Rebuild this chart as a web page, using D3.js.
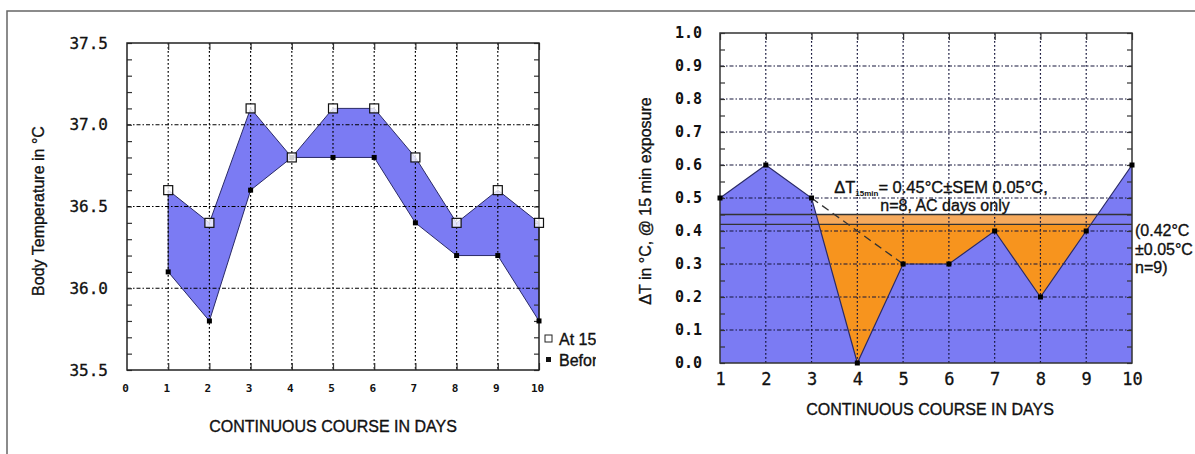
<!DOCTYPE html>
<html>
<head>
<meta charset="utf-8">
<script src="https://cdn.jsdelivr.net/npm/d3@7/dist/d3.min.js"></script>
<style>
  body { margin: 0; background: #fff; }
  svg { display: block; }
  .mono { font-family: "DejaVu Sans Mono", monospace; }
  .sans { font-family: "Liberation Sans", Arial, sans-serif; stroke: #111; stroke-width: 0.35px; }
</style>
</head>
<body>
<svg id="fig" width="1195" height="454"></svg>
<script>
// ---- data ----
const days = [1, 2, 3, 4, 5, 6, 7, 8, 9, 10];
const at15min = [36.6, 36.4, 37.1, 36.8, 37.1, 37.1, 36.8, 36.4, 36.6, 36.4];
const beforeExp = [36.1, 35.8, 36.6, 36.8, 36.8, 36.8, 36.4, 36.2, 36.2, 35.8];
const deltaT = [0.5, 0.6, 0.5, 0.0, 0.3, 0.3, 0.4, 0.2, 0.4, 0.6];
const meanAC = 0.45;
const meanAll = 0.42;
const dashFrom = 3, dashTo = 5;

const leftXTicks = [0, 1, 2, 3, 4, 5, 6, 7, 8, 9, 10];
const leftYTicks = [35.5, 36.0, 36.5, 37.0, 37.5];
const rightXTicks = [1, 2, 3, 4, 5, 6, 7, 8, 9, 10];
const rightYTicks = [0, 0.1, 0.2, 0.3, 0.4, 0.5, 0.6, 0.7, 0.8, 0.9, 1.0];

const BLUE = "#7b7bf3", EDGE = "#2a2a66";
const svg = d3.select("#fig");

// outer figure frame (top + left edge)
svg.append("path")
  .attr("d", "M7,454 L7,11 L1195,11")
  .attr("fill", "none").attr("stroke", "#666").attr("stroke-width", 1.5);

function minorTicks(g, axis, vals, size) {
  g.call(axis.tickValues(vals).tickSize(size).tickFormat(""))
    .call(a => a.select(".domain").remove())
    .selectAll("line").attr("stroke", "#333").attr("stroke-width", 1.2);
}

// ================= LEFT CHART =================
(function leftChart() {
  const x = d3.scaleLinear().domain([0, 10]).range([127, 539]);
  const y = d3.scaleLinear().domain([35.5, 37.5]).range([370, 43]);
  const g = svg.append("g");

  const band = d3.area()
    .x((d, i) => x(days[i]))
    .y0((d, i) => y(beforeExp[i]))
    .y1(d => y(d));
  g.append("path").datum(at15min)
    .attr("d", band)
    .attr("fill", BLUE).attr("stroke", EDGE).attr("stroke-width", 1);

  // grid
  g.selectAll(".vg").data(days.slice(0, 9)).join("line")
    .attr("x1", d => x(d)).attr("x2", d => x(d))
    .attr("y1", y(37.5)).attr("y2", y(35.5))
    .attr("stroke", "#000").attr("stroke-width", 1.2).attr("stroke-dasharray", "1.8,2.2");
  g.selectAll(".hg").data(leftYTicks.slice(1, 4)).join("line")
    .attr("x1", x(0)).attr("x2", x(10))
    .attr("y1", d => y(d)).attr("y2", d => y(d))
    .attr("stroke", "#000").attr("stroke-width", 1.2).attr("stroke-dasharray", "4,2,1.5,2");

  const minor = d3.range(0, 21).map(i => 35.5 + i * 0.1);
  minorTicks(g.append("g").attr("transform", `translate(${x(0)},0)`), d3.axisLeft(y), minor, -5);
  minorTicks(g.append("g").attr("transform", `translate(${x(10)},0)`), d3.axisRight(y), minor, -5);
  minorTicks(g.append("g").attr("transform", `translate(0,${y(37.5)})`), d3.axisTop(x), days, -7);
  minorTicks(g.append("g").attr("transform", `translate(0,${y(35.5)})`), d3.axisBottom(x), days, -7);

  g.append("rect")
    .attr("x", x(0)).attr("y", y(37.5))
    .attr("width", x(10) - x(0)).attr("height", y(35.5) - y(37.5))
    .attr("fill", "none").attr("stroke", "#222").attr("stroke-width", 1.5);

  // markers
  g.selectAll(".bm").data(beforeExp).join("rect")
    .attr("x", (d, i) => x(days[i]) - 2.5).attr("y", d => y(d) - 2.5)
    .attr("width", 5).attr("height", 5).attr("fill", "#000");
  g.selectAll(".am").data(at15min).join("rect")
    .attr("x", (d, i) => x(days[i]) - 4.5).attr("y", d => y(d) - 4.5)
    .attr("width", 9).attr("height", 9)
    .attr("fill", "#fff").attr("fill-opacity", 0.8).attr("stroke", "#111").attr("stroke-width", 1.2);

  // tick labels
  g.append("g").attr("transform", `translate(${x(0)},0)`)
    .call(d3.axisLeft(y).tickValues(leftYTicks).tickSize(0).tickPadding(19).tickFormat(d3.format(".1f")))
    .call(a => a.select(".domain").remove())
    .selectAll("text").attr("class", "mono").attr("font-size", 16).attr("fill", "#111")
    .attr("stroke", "#111").attr("stroke-width", 0.3);
  g.append("g").attr("transform", `translate(0,${y(35.5)})`)
    .call(d3.axisBottom(x).tickValues(leftXTicks).tickSize(0).tickPadding(14))
    .call(a => a.select(".domain").remove())
    .selectAll("text").attr("class", "mono").attr("font-size", 11).attr("font-weight", "bold")
    .attr("dx", -2).attr("fill", "#111");

  // titles
  g.append("text").attr("class", "sans")
    .attr("transform", "translate(44,211) rotate(-90)")
    .attr("text-anchor", "middle").attr("font-size", 16).attr("fill", "#111")
    .text("Body Temperature in °C");
  g.append("text").attr("class", "sans")
    .attr("x", 333).attr("y", 432)
    .attr("text-anchor", "middle").attr("font-size", 16).attr("fill", "#111")
    .text("CONTINUOUS COURSE IN DAYS");

  // legend (clipped as in the source image)
  svg.append("clipPath").attr("id", "legclip")
    .append("rect").attr("x", 540).attr("y", 320).attr("width", 56).attr("height", 60);
  const leg = g.append("g").attr("clip-path", "url(#legclip)");
  leg.append("rect").attr("x", 545).attr("y", 335).attr("width", 7).attr("height", 7)
    .attr("fill", "#fff").attr("stroke", "#222").attr("stroke-width", 1);
  leg.append("text").attr("class", "sans").attr("x", 559).attr("y", 345)
    .attr("font-size", 16).attr("fill", "#111").text("At 15 min");
  leg.append("rect").attr("x", 546).attr("y", 357).attr("width", 5).attr("height", 5).attr("fill", "#111");
  leg.append("text").attr("class", "sans").attr("x", 559).attr("y", 366)
    .attr("font-size", 16).attr("fill", "#111").text("Before");
})();

// ================= RIGHT CHART =================
(function rightChart() {
  const x = d3.scaleLinear().domain([1, 10]).range([720, 1132]);
  const y = d3.scaleLinear().domain([0, 1]).range([363, 33]);
  const g = svg.append("g");

  // orange bands below the two mean lines, then blue area under the curve
  g.append("rect").attr("x", x(1)).attr("width", x(10) - x(1))
    .attr("y", y(meanAC)).attr("height", y(0) - y(meanAC)).attr("fill", "#f6aa5c");
  g.append("rect").attr("x", x(1)).attr("width", x(10) - x(1))
    .attr("y", y(meanAll)).attr("height", y(0) - y(meanAll)).attr("fill", "#f7941e");

  const area = d3.area().x((d, i) => x(days[i])).y0(y(0)).y1(d => y(d));
  g.append("path").datum(deltaT).attr("d", area).attr("fill", BLUE);

  // grid
  g.selectAll(".vg").data(rightXTicks.slice(1, 9)).join("line")
    .attr("x1", d => x(d)).attr("x2", d => x(d))
    .attr("y1", y(1)).attr("y2", y(0))
    .attr("stroke", "#14143a").attr("stroke-width", 1.2).attr("stroke-dasharray", "1.8,2.2");
  g.selectAll(".hg").data(rightYTicks.slice(1, 10)).join("line")
    .attr("x1", x(1)).attr("x2", x(10))
    .attr("y1", d => y(d)).attr("y2", d => y(d))
    .attr("stroke", "#14143a").attr("stroke-width", 1.2).attr("stroke-dasharray", "4,2,1.5,2");

  // mean lines
  g.selectAll(".mean").data([meanAC, meanAll]).join("line")
    .attr("x1", x(1)).attr("x2", x(10))
    .attr("y1", d => y(d)).attr("y2", d => y(d))
    .attr("stroke", "#333").attr("stroke-width", 1.3);

  // curve
  const line = d3.line().x((d, i) => x(days[i])).y(d => y(d));
  g.append("path").datum(deltaT).attr("d", line)
    .attr("fill", "none").attr("stroke", EDGE).attr("stroke-width", 1.2);

  // dashed connector
  const i0 = days.indexOf(dashFrom), i1 = days.indexOf(dashTo);
  g.append("line")
    .attr("x1", x(dashFrom)).attr("y1", y(deltaT[i0]))
    .attr("x2", x(dashTo)).attr("y2", y(deltaT[i1]))
    .attr("stroke", "#333").attr("stroke-width", 1.3).attr("stroke-dasharray", "8,5");

  const minor = d3.range(0, 21).map(i => i * 0.05);
  minorTicks(g.append("g").attr("transform", `translate(${x(1)},0)`), d3.axisLeft(y), minor, -5);
  minorTicks(g.append("g").attr("transform", `translate(${x(10)},0)`), d3.axisRight(y), minor, -5);
  minorTicks(g.append("g").attr("transform", `translate(0,${y(1)})`), d3.axisTop(x), rightXTicks, -7);

  g.append("rect")
    .attr("x", x(1)).attr("y", y(1))
    .attr("width", x(10) - x(1)).attr("height", y(0) - y(1))
    .attr("fill", "none").attr("stroke", "#333").attr("stroke-width", 1.5);

  // markers
  g.selectAll(".pm").data(deltaT).join("rect")
    .attr("x", (d, i) => x(days[i]) - 2.5).attr("y", d => y(d) - 2.5)
    .attr("width", 5).attr("height", 5).attr("fill", "#000");

  // tick labels
  g.append("g").attr("transform", `translate(${x(1)},0)`)
    .call(d3.axisLeft(y).tickValues(rightYTicks).tickSize(0).tickPadding(18).tickFormat(d3.format(".1f")))
    .call(a => a.select(".domain").remove())
    .selectAll("text").attr("class", "mono").attr("font-size", 15).attr("font-weight", "bold").attr("fill", "#111");
  g.append("g").attr("transform", `translate(0,${y(0)})`)
    .call(d3.axisBottom(x).tickValues(rightXTicks).tickSize(0).tickPadding(10))
    .call(a => a.select(".domain").remove())
    .selectAll("text").attr("class", "mono").attr("font-size", 17).attr("fill", "#111")
    .attr("stroke", "#111").attr("stroke-width", 0.3);

  // titles
  g.append("text").attr("class", "sans")
    .attr("transform", "translate(651,201) rotate(-90)")
    .attr("text-anchor", "middle").attr("font-size", 16).attr("fill", "#111")
    .text("ΔT in °C, @ 15 min exposure");
  g.append("text").attr("class", "sans")
    .attr("x", 930).attr("y", 415)
    .attr("text-anchor", "middle").attr("font-size", 16).attr("fill", "#111")
    .text("CONTINUOUS COURSE IN DAYS");

  // annotation
  const ann = g.append("text").attr("class", "sans")
    .attr("x", 941).attr("y", 193).attr("text-anchor", "middle")
    .attr("font-size", 16.5).attr("fill", "#111");
  ann.append("tspan").text("ΔT");
  ann.append("tspan").attr("font-size", 8).attr("font-weight", "bold")
    .attr("stroke-width", 0).attr("dy", 3).text("15min");
  ann.append("tspan").attr("dy", -3).text(`= ${meanAC.toFixed(2)}°C±SEM 0.05°C,`);
  g.append("text").attr("class", "sans")
    .attr("x", 945).attr("y", 211).attr("text-anchor", "middle")
    .attr("font-size", 16).attr("fill", "#111")
    .text("n=8, AC days only");

  const side = [`(${meanAll.toFixed(2)}°C`, "±0.05°C", "n=9)"];
  g.selectAll(".side").data(side).join("text")
    .attr("class", "sans").attr("x", 1135).attr("y", (d, i) => 236 + i * 18.5)
    .attr("font-size", 16).attr("fill", "#111").text(d => d);
})();
</script>
</body>
</html>
